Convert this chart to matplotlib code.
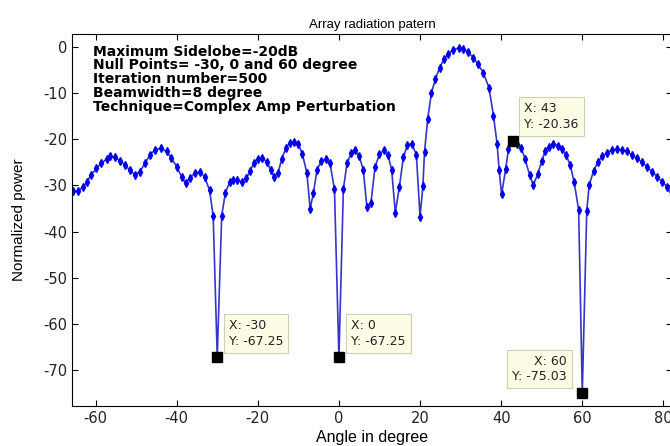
import numpy as np
import matplotlib
matplotlib.use('Agg')
import matplotlib.pyplot as plt

plt.rcParams['font.family'] = ['Liberation Sans', 'DejaVu Sans']
plt.rcParams['axes.unicode_minus'] = False

# pattern (angle in degree, normalized power in dB)
angle = [-65.6, -64.4, -63.1, -62.1, -61.1, -59.8, -58.6, -57.3, -56.5, -55.3,
         -54.0, -52.8, -51.6, -50.3, -49.1, -47.8, -46.6, -45.4, -43.9, -42.5,
         -41.3, -40.0, -38.8, -37.8, -36.7, -35.5, -34.2, -33.1, -31.9, -31.0,
         -30.0, -28.9, -28.0, -26.9, -26.1, -25.1, -24.0, -22.8, -21.9, -21.0,
         -20.0, -18.9, -17.8, -16.8, -16.0, -15.0, -14.1, -13.1, -12.1, -11.1,
         -10.0, -9.0, -7.9, -7.1, -6.3, -5.4, -4.3, -3.2, -2.2, -1.1,
         0.0, 1.1, 2.0, 3.0, 4.0, 5.0, 6.0, 6.9, 7.9, 8.9,
         10.0, 11.1, 12.1, 13.0, 13.9, 14.9, 15.9, 16.9, 18.0, 19.1,
         20.0, 20.7, 21.1, 21.9, 22.8, 23.8, 24.8, 25.9, 26.9, 28.1,
         29.5, 30.6, 31.9, 33.1, 34.3, 35.6, 37.0, 38.1, 39.0, 39.5,
         40.1, 41.1, 41.8, 43.0, 44.0, 45.0, 45.9, 47.0, 47.9, 49.0,
         50.0, 50.8, 51.7, 52.9, 54.0, 55.0, 56.0, 57.0, 58.0, 59.1,
         60.0, 61.1, 61.7, 62.8, 63.9, 64.9, 66.1, 67.3, 68.6, 69.8,
         71.0, 72.3, 73.5, 74.8, 76.0, 77.2, 78.5, 79.7, 80.9, 82.0]
power = [-31.3, -31.2, -30.4, -29.2, -27.7, -26.3, -25.2, -24.3, -23.7, -23.9,
         -24.6, -25.5, -26.6, -27.7, -27.0, -25.2, -23.4, -22.3, -21.9, -22.6,
         -24.1, -25.9, -28.1, -29.4, -28.4, -27.3, -27.0, -28.2, -31.0, -36.6,
         -67.25, -36.6, -31.6, -29.2, -28.7, -28.8, -29.2, -28.4, -26.8, -25.2,
         -24.2, -24.1, -24.8, -26.6, -28.1, -27.2, -24.3, -21.9, -20.7, -20.5,
         -21.0, -23.2, -27.3, -35.0, -31.7, -26.6, -24.6, -24.3, -25.2, -30.8,
         -67.25, -30.7, -25.2, -23.0, -22.4, -23.6, -26.6, -34.7, -33.7, -26.0,
         -23.2, -22.4, -23.4, -26.6, -35.9, -30.3, -23.8, -21.2, -20.9, -23.4,
         -36.8, -30.1, -22.7, -15.5, -9.9, -6.9, -4.4, -2.6, -1.5, -0.6,
         -0.1, -0.3, -1.1, -2.2, -3.7, -5.5, -8.8, -14.8, -21.0, -26.6,
         -31.9, -26.5, -22.1, -20.36, -20.9, -21.9, -24.3, -27.7, -29.9, -27.6,
         -24.7, -22.6, -21.6, -21.0, -21.4, -22.1, -23.4, -25.5, -29.3, -35.3,
         -75.03, -35.5, -29.9, -26.8, -24.8, -23.7, -22.9, -22.3, -22.1, -22.3,
         -22.6, -23.4, -24.1, -25.0, -26.0, -27.0, -28.1, -29.2, -30.3, -32.1]

# data tips
tip_x = [-30, 0, 43, 60]
tip_y = [-67.25, -67.25, -20.36, -75.03]
tip_text = ['X: -30\nY: -67.25', 'X: 0\nY: -67.25', 'X: 43\nY: -20.36', 'X: 60\nY: -75.03']
tip_pos = [(-27.2, -62.1), (3.0, -62.1), (45.7, -15.0), (56.2, -69.9)]
tip_ha = ['left', 'left', 'left', 'right']

info = ('Maximum Sidelobe=-20dB\n'
        'Null Points= -30, 0 and 60 degree\n'
        'Iteration number=500\n'
        'Beamwidth=8 degree\n'
        'Technique=Complex Amp Perturbation')

fig = plt.figure(figsize=(6.7, 4.46), dpi=100)
ax = fig.add_axes([0.1075, 0.0897, 0.896, 0.834])

ax.plot(angle, power, '-', color='#3535c8', lw=1.2, marker='d', ms=4,
        mfc='#0000ee', mec='#0000ee')
ax.plot(tip_x, tip_y, 's', color='k', ms=7, zorder=5)

for (tx, ty), s, ha in zip(tip_pos, tip_text, tip_ha):
    ax.text(tx, ty, s, ha=ha, va='center', fontsize=9, linespacing=1.25,
            color='#222222', zorder=6, family='DejaVu Sans',
            bbox=dict(boxstyle='square,pad=0.4', fc='#fdfde6', ec='#cfcfb8', lw=0.8))

ax.text(-60.6, 0.6, info, ha='left', va='top', fontsize=10, fontweight='bold',
        family='DejaVu Sans', linespacing=0.98)

ax.set_xlim(-65.8, 82.2)
ax.set_ylim(-77.9, 2.9)
ax.set_xticks(np.arange(-60, 81, 20))
ax.set_yticks(np.arange(-70, 1, 10))
ax.tick_params(direction='in', top=True, right=True, length=4,
               labelcolor='#222222')
for lab in ax.get_xticklabels() + ax.get_yticklabels():
    lab.set_family('DejaVu Sans')
    lab.set_fontsize(10.5)

ax.set_title('Array radiation patern', fontsize=9.5, pad=4)
ax.set_xlabel('Angle in degree', fontsize=11.5, labelpad=3)
ax.set_ylabel('Normalized power', fontsize=11, labelpad=12)

fig.savefig('out.png', dpi=100)
